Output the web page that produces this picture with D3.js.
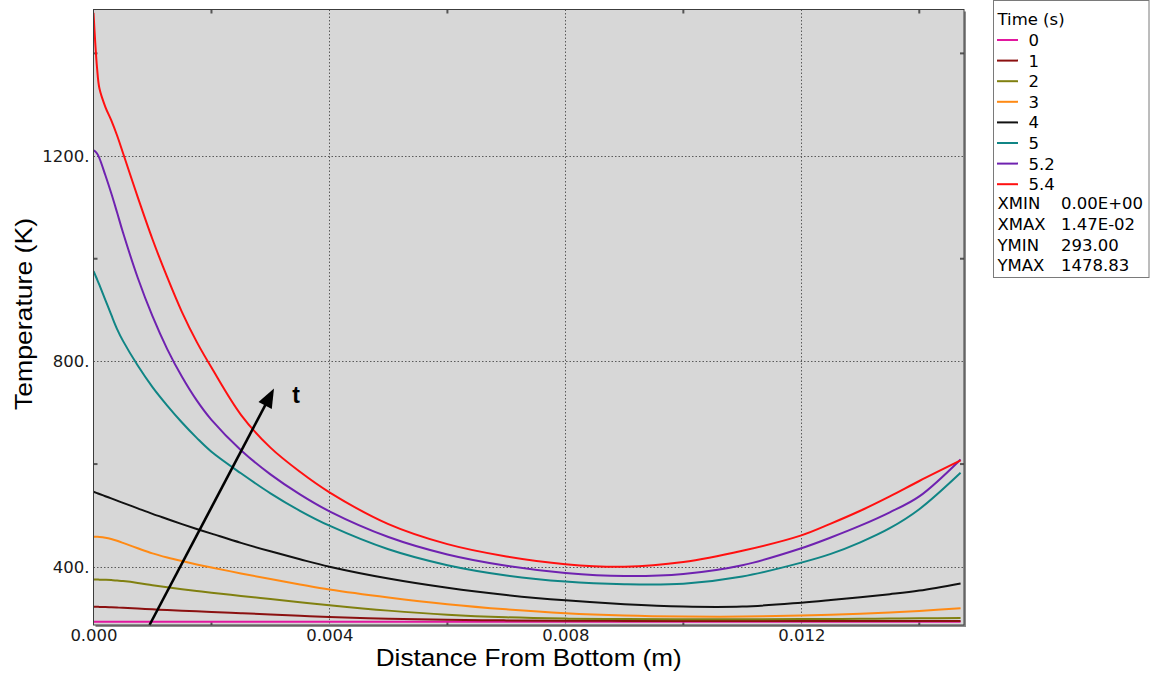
<!DOCTYPE html>
<html>
<head>
<meta charset="utf-8">
<script src="https://cdn.jsdelivr.net/npm/d3@7"></script>
<style>
  html, body { margin: 0; padding: 0; background: #ffffff; }
  svg { display: block; }
</style>
</head>
<body>
<svg id="chart" width="1151" height="674"></svg>
<script>
// Distance from the bottom of the specimen (m), shared by every time curve
const distance = [0, 0.00003, 0.00006, 0.0001, 0.0002, 0.0003, 0.0004, 0.0005, 0.00075, 0.001,
  0.00125, 0.0015, 0.00175, 0.002, 0.0025, 0.003, 0.0035, 0.004, 0.005, 0.006,
  0.007, 0.008, 0.009, 0.010, 0.011, 0.012, 0.0125, 0.013, 0.0135, 0.014, 0.0147];

// Temperature profiles (K) at each output time
const temp_t0 = distance.map(() => 293);
const temp_t1 = [322, 322, 322, 321.8, 321.5, 321, 320.5, 320, 318.5, 317, 315.5, 314.3, 313.2, 312,
  309.5, 307, 304.5, 302, 298.5, 296.5, 295.5, 295, 294.5, 294.5, 294.5, 294.5, 294.5, 294.5, 294.5, 294.5, 294.5];
const temp_t2 = [375, 375, 375, 374.8, 374.5, 374, 373, 372, 368.5, 364, 360, 356.3, 352.8, 349.5,
  343, 337, 331, 325, 314.5, 306.5, 301.5, 299, 298, 297.5, 297.5, 298, 298, 298.5, 299, 299.5, 300];
const temp_t3 = [458.5, 458.5, 458.3, 458, 456.5, 454, 450.5, 446.5, 436, 426, 418, 411, 404.5, 398.5,
  387, 376, 365.5, 355.5, 340, 327, 317, 309.5, 305, 303, 303, 305, 306.5, 308.5, 311, 314, 319];
const temp_t4 = [546, 544.7, 543.4, 541.7, 537.4, 533.1, 528.8, 524.5, 513.7, 503, 493, 483, 473.5, 464.5,
  446.5, 430, 414.5, 400, 377, 359, 345, 334.5, 327, 322.5, 322.5, 330, 335, 340.5, 346.5, 353.5, 367.5];
const temp_t5 = [976, 968, 960, 949, 920, 891, 863, 840, 792, 750, 714, 681, 651, 624,
  582, 543, 509, 480, 434, 403, 383, 371, 366, 367, 381, 408, 425, 447.5, 475, 512, 583];
const temp_t52 = [1211, 1209, 1205, 1196, 1163, 1128, 1090, 1051, 963, 888, 824, 770, 724, 686,
  627, 580, 541, 508, 458, 424, 402, 388, 382, 386, 403, 436, 457, 480, 506, 537, 609];
const temp_t54 = [1478.83, 1420, 1372, 1332, 1296, 1270, 1240, 1206, 1120, 1038, 964, 896, 838, 788,
  696, 632, 585, 545, 483, 444, 420, 405, 400, 409, 431, 461, 484, 509, 537, 567, 607];

const timeLabels = ["0", "1", "2", "3", "4", "5", "5.2", "5.4"];
const timeColors = ["#e2179f", "#8b1010", "#808010", "#ff8a14", "#111111", "#108585", "#6f22b0", "#ff1010"];
const timeSeries = [temp_t0, temp_t1, temp_t2, temp_t3, temp_t4, temp_t5, temp_t52, temp_t54];

const xTicks = [0, 0.004, 0.008, 0.012];
const xMinorTicks = [0.002, 0.006, 0.010, 0.014];
const yTicks = [400, 800, 1200];
const yMinorTicks = [600, 1000, 1400];

const limitNames = ["XMIN", "XMAX", "YMIN", "YMAX"];
const limitValues = ["0.00E+00", "1.47E-02", "293.00", "1478.83"];

// Direction-of-time annotation, in data units
const arrowFrom = [0.00095, 286.5];
const arrowTo = [0.00306, 747];
const arrowLabelAt = [0.00337, 719];

const svg = d3.select("#chart");
const plot = { left: 93.5, right: 964, top: 9.5, bottom: 625 };

const x = d3.scaleLinear().domain([0, 0.014758]).range([plot.left, plot.right]);
const y = d3.scaleLinear().domain([286.5, 1485.5]).range([plot.bottom, plot.top]);

// Plot background and drop shadow
svg.append("rect")
  .attr("x", plot.left + 2).attr("y", plot.top + 2)
  .attr("width", plot.right - plot.left).attr("height", plot.bottom - plot.top)
  .attr("fill", "#8c8c8c");
svg.append("rect")
  .attr("x", plot.left).attr("y", plot.top)
  .attr("width", plot.right - plot.left).attr("height", plot.bottom - plot.top)
  .attr("fill", "#d7d7d7");

// Dotted grid at labelled ticks
const grid = svg.append("g").attr("stroke", "#5a5a5a").attr("stroke-width", 1)
  .attr("stroke-dasharray", "1.5,2");
grid.selectAll("line.gx").data(xTicks.slice(1)).join("line")
  .attr("x1", d => Math.round(x(d)) + 0.5).attr("x2", d => Math.round(x(d)) + 0.5)
  .attr("y1", plot.top).attr("y2", plot.bottom);
grid.selectAll("line.gy").data(yTicks).join("line")
  .attr("x1", plot.left).attr("x2", plot.right)
  .attr("y1", d => Math.round(y(d)) + 0.5).attr("y2", d => Math.round(y(d)) + 0.5);

// Minor tick marks on all four sides, pointing inward
const minor = svg.append("g").attr("stroke", "#555").attr("stroke-width", 2);
xMinorTicks.forEach(v => {
  minor.append("line").attr("x1", x(v)).attr("x2", x(v)).attr("y1", plot.bottom).attr("y2", plot.bottom - 4);
  minor.append("line").attr("x1", x(v)).attr("x2", x(v)).attr("y1", plot.top).attr("y2", plot.top + 4);
});
yMinorTicks.forEach(v => {
  minor.append("line").attr("x1", plot.left).attr("x2", plot.left + 4).attr("y1", y(v)).attr("y2", y(v));
  minor.append("line").attr("x1", plot.right).attr("x2", plot.right - 4).attr("y1", y(v)).attr("y2", y(v));
});

// Curves
svg.append("clipPath").attr("id", "plotClip").append("rect")
  .attr("x", plot.left).attr("y", plot.top - 4)
  .attr("width", plot.right - plot.left).attr("height", plot.bottom - plot.top + 4);

const line = d3.line()
  .x((d, i) => x(distance[i]))
  .y(d => y(d))
  .curve(d3.curveCatmullRom.alpha(0.5));

svg.append("g").attr("clip-path", "url(#plotClip)")
  .selectAll("path").data(timeSeries).join("path")
  .attr("d", d => line(d))
  .attr("fill", "none")
  .attr("stroke", (d, i) => timeColors[i])
  .attr("stroke-width", 2)
  .attr("stroke-linejoin", "round");

// Time arrow annotation
const ax0 = x(arrowFrom[0]), ay0 = y(arrowFrom[1]);
const ax1 = x(arrowTo[0]), ay1 = y(arrowTo[1]);
const ang = Math.atan2(ay1 - ay0, ax1 - ax0);
const headLen = 19, headHalf = 7.5;
const bx = ax1 - headLen * Math.cos(ang), by = ay1 - headLen * Math.sin(ang);
svg.append("line")
  .attr("x1", ax0).attr("y1", ay0).attr("x2", bx + 2 * Math.cos(ang)).attr("y2", by + 2 * Math.sin(ang))
  .attr("stroke", "#000").attr("stroke-width", 2.6);
svg.append("polygon")
  .attr("points", [
    [ax1, ay1],
    [bx + headHalf * Math.sin(ang), by - headHalf * Math.cos(ang)],
    [bx - headHalf * Math.sin(ang), by + headHalf * Math.cos(ang)]
  ].map(p => p.join(",")).join(" "))
  .attr("fill", "#000");
svg.append("text")
  .attr("x", x(arrowLabelAt[0])).attr("y", y(arrowLabelAt[1]))
  .attr("font-family", "'Liberation Sans', Arial, sans-serif")
  .attr("font-weight", "bold").attr("font-size", 23)
  .attr("fill", "#000").text("t");

// Frame
svg.append("rect")
  .attr("x", plot.left).attr("y", plot.top)
  .attr("width", plot.right - plot.left).attr("height", plot.bottom - plot.top)
  .attr("fill", "none").attr("stroke", "#3c3c3c").attr("stroke-width", 1);

// Axes
const tickFont = "'DejaVu Sans', Verdana, sans-serif";
const xAxis = svg.append("g").attr("transform", `translate(0,${plot.bottom})`)
  .call(d3.axisBottom(x).tickValues(xTicks).tickSize(0).tickPadding(4).tickFormat(d3.format(".3f")));
const yAxis = svg.append("g").attr("transform", `translate(${plot.left},0)`)
  .call(d3.axisLeft(y).tickValues(yTicks).tickSize(0).tickPadding(4).tickFormat(d => d + "."));
[xAxis, yAxis].forEach(g => {
  g.select(".domain").remove();
  g.selectAll("text").attr("font-family", tickFont).attr("font-size", 16.5).attr("fill", "#1a1a1a");
});

// Axis titles
const titleFont = "'Liberation Sans', Arial, sans-serif";
svg.append("text")
  .attr("x", (plot.left + plot.right) / 2).attr("y", 666)
  .attr("text-anchor", "middle")
  .attr("font-family", titleFont).attr("font-size", 24.5).attr("fill", "#000")
  .attr("textLength", 306).attr("lengthAdjust", "spacingAndGlyphs")
  .text("Distance From Bottom (m)");
svg.append("text")
  .attr("transform", "translate(32,314) rotate(-90)")
  .attr("text-anchor", "middle")
  .attr("font-family", titleFont).attr("font-size", 24.5).attr("fill", "#000")
  .attr("textLength", 192).attr("lengthAdjust", "spacingAndGlyphs")
  .text("Temperature (K)");

// Legend
const lg = svg.append("g");
lg.append("rect").attr("x", 993.5).attr("y", 0.5).attr("width", 155.5).attr("height", 277)
  .attr("fill", "#fff").attr("stroke", "#7a7a7a").attr("stroke-width", 1);
lg.append("text").attr("x", 997.5).attr("y", 24.5)
  .attr("font-family", tickFont).attr("font-size", 16.5).attr("fill", "#000").text("Time (s)");
const rowY = i => 40 + i * 20.6;
timeLabels.forEach((lab, i) => {
  lg.append("line").attr("x1", 997).attr("x2", 1018)
    .attr("y1", rowY(i)).attr("y2", rowY(i))
    .attr("stroke", timeColors[i]).attr("stroke-width", 2);
  lg.append("text").attr("x", 1028.5).attr("y", rowY(i) + 6)
    .attr("font-family", tickFont).attr("font-size", 16.5).attr("fill", "#000").text(lab);
});
limitNames.forEach((name, i) => {
  const yy = 209.3 + i * 20.6;
  lg.append("text").attr("x", 997.5).attr("y", yy)
    .attr("font-family", tickFont).attr("font-size", 16.5).attr("fill", "#000").text(name);
  lg.append("text").attr("x", 1061).attr("y", yy)
    .attr("font-family", tickFont).attr("font-size", 16.5).attr("fill", "#000").text(limitValues[i]);
});
</script>
</body>
</html>
